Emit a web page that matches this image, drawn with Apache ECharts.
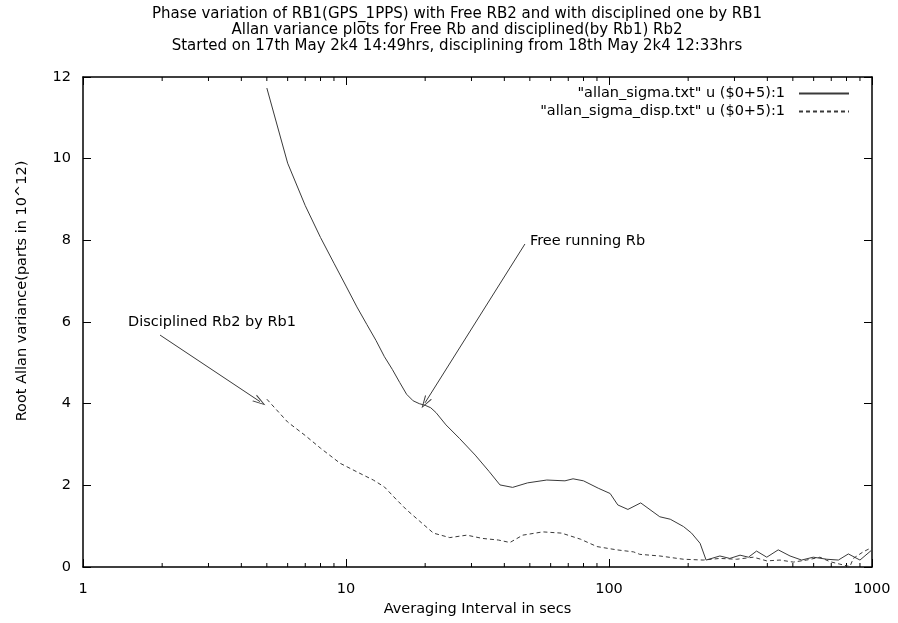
<!DOCTYPE html>
<html>
<head>
<meta charset="utf-8">
<script src="https://cdn.jsdelivr.net/npm/echarts@6/dist/echarts.min.js"></script>
<style>
  html, body { margin: 0; padding: 0; background: #ffffff; }
  #chart { width: 898px; height: 623px; }
</style>
</head>
<body>
<div id="chart"></div>
<script>
// Free running Rb: averaging interval (s) and root Allan variance (parts in 10^12)
const freeInterval = [5, 6, 7, 8, 9, 10, 11, 12, 13, 14, 15, 16, 17, 18, 19, 20, 21, 22, 24, 27, 31, 35, 38.5, 43, 49, 58, 68, 73, 80, 91, 101, 108, 118, 132, 156, 171, 192, 206, 222, 234, 264, 288, 315, 339, 364, 398, 440, 488, 540, 598, 673, 745, 813, 900, 1000];
const freeSigma = [11.73, 9.89, 8.85, 8.07, 7.44, 6.88, 6.37, 5.94, 5.55, 5.15, 4.84, 4.52, 4.23, 4.07, 4.0, 3.96, 3.9, 3.78, 3.48, 3.15, 2.74, 2.34, 2.01, 1.95, 2.06, 2.13, 2.11, 2.16, 2.11, 1.93, 1.80, 1.52, 1.41, 1.57, 1.23, 1.17, 0.99, 0.83, 0.58, 0.17, 0.27, 0.21, 0.29, 0.24, 0.39, 0.24, 0.42, 0.27, 0.17, 0.24, 0.19, 0.17, 0.32, 0.17, 0.42];

// Rb2 disciplined by Rb1
const discInterval = [5, 6, 7, 8, 9.5, 11, 12.7, 14, 15.5, 17, 19, 21.5, 24.8, 28.8, 33, 38, 42, 47, 56, 66, 78, 90, 107, 124, 131, 156, 192, 228, 264, 306, 354, 398, 447, 502, 564, 634, 692, 755, 824, 849, 925, 1000];
const discSigma = [4.11, 3.55, 3.22, 2.91, 2.54, 2.33, 2.13, 1.96, 1.66, 1.40, 1.13, 0.83, 0.72, 0.78, 0.70, 0.66, 0.60, 0.78, 0.86, 0.83, 0.68, 0.50, 0.42, 0.37, 0.31, 0.27, 0.19, 0.17, 0.21, 0.19, 0.24, 0.15, 0.17, 0.12, 0.17, 0.24, 0.13, 0.07, 0.01, 0.21, 0.37, 0.48];

const seriesNames = ['"allan_sigma.txt" u ($0+5):1', '"allan_sigma_disp.txt" u ($0+5):1'];
const titleLines = [
  'Phase variation of RB1(GPS_1PPS) with Free RB2 and with disciplined one by RB1',
  'Allan variance plots for Free Rb and disciplined(by Rb1) Rb2',
  'Started on 17th May 2k4 14:49hrs, disciplining from 18th May 2k4 12:33hrs'
];
const xName = 'Averaging Interval in secs';
const yName = 'Root Allan variance(parts in 10^12)';

// Log-axis minor tick positions (2..9 in each decade)
const minorTickValues = [2, 3, 4, 5, 6, 7, 8, 9, 20, 30, 40, 50, 60, 70, 80, 90, 200, 300, 400, 500, 600, 700, 800, 900];

// Annotation arrows: label text, text anchor, arrow start, arrow tip
const notes = [
  { text: 'Free running Rb', anchor: [47.9, 7.91], from: [47.9, 7.91], to: [19.97, 4.02] },
  { text: 'Disciplined Rb2 by Rb1', anchor: [1.483, 6.0], from: [1.963, 5.68], to: [4.71, 4.05] }
];

const FONT = '"DejaVu Sans", "Liberation Sans", Arial, sans-serif';
const FS = 14.5;
const INK = '#000000';
const CURVE = '#3a3a3a';
// open arrow head (chevron), tip at the top
const ARROW_HEAD = 'path://M5,0 L10,12 L8.6,12 L5,2.6 L1.4,12 L0,12 Z';

const zip = (xs, ys) => xs.map((x, i) => [x, ys[i]]);

const chart = echarts.init(document.getElementById('chart'), null, { renderer: 'canvas' });

const baseX = {
  type: 'log', logBase: 10, min: 1, max: 1000,
  axisLine: { show: true, onZero: false, lineStyle: { color: INK, width: 1.5 } },
  axisTick: { show: true, inside: true, length: 8, lineStyle: { color: INK, width: 1 } },
  splitLine: { show: false },
  minorTick: { show: false }
};
const baseY = {
  type: 'value', min: 0, max: 12, interval: 2,
  axisLine: { show: true, onZero: false, lineStyle: { color: INK, width: 1.5 } },
  axisTick: { show: true, inside: true, length: 8, lineStyle: { color: INK, width: 1 } },
  splitLine: { show: false }
};

const option = {
  backgroundColor: '#ffffff',
  animation: false,
  textStyle: { fontFamily: FONT },
  title: {
    text: titleLines.join('\n'),
    left: 457, top: 6, padding: 0, textAlign: 'center',
    textStyle: { fontFamily: FONT, fontSize: 15, fontWeight: 'normal', color: INK, lineHeight: 16 }
  },
  legend: {
    data: seriesNames,
    orient: 'vertical',
    right: 43, top: 81,
    align: 'right',
    itemWidth: 50, itemHeight: 14, itemGap: 3,
    itemStyle: { opacity: 0 },
    textStyle: { fontFamily: FONT, fontSize: FS, color: INK, padding: [0, 9, 0, 0], lineHeight: 14 }
  },
  grid: { left: 83, right: 26, top: 77, bottom: 56, containLabel: false },
  xAxis: [
    Object.assign({}, baseX, {
      position: 'bottom',
      name: xName, nameLocation: 'middle', nameGap: 32,
      nameTextStyle: { fontFamily: FONT, fontSize: FS, color: INK },
      axisLabel: {
        show: true, margin: 15, fontFamily: FONT, fontSize: FS, color: INK,
        formatter: v => String(Math.round(v))
      }
    }),
    Object.assign({}, baseX, { position: 'top', axisLabel: { show: false } })
  ],
  yAxis: [
    Object.assign({}, baseY, {
      position: 'left',
      axisLabel: { show: true, margin: 12, fontFamily: FONT, fontSize: FS, color: INK }
    }),
    Object.assign({}, baseY, { position: 'right', axisLabel: { show: false } })
  ],
  graphic: [{
    type: 'text',
    x: 22, y: 291, rotation: Math.PI / 2,
    style: {
      text: yName, fontFamily: FONT, fontSize: FS, fill: INK,
      align: 'center', verticalAlign: 'middle'
    }
  }],
  series: [
    {
      name: seriesNames[0],
      type: 'line',
      xAxisIndex: 0, yAxisIndex: 0,
      data: zip(freeInterval, freeSigma),
      showSymbol: false, symbol: 'none',
      lineStyle: { color: CURVE, width: 1, type: 'solid' },
      itemStyle: { color: CURVE },
      z: 3,
      markLine: {
        silent: true,
        symbol: ['none', ARROW_HEAD],
        symbolSize: 12,
        lineStyle: { color: CURVE, width: 1, type: 'solid' },
        label: { show: false },
        data: notes.map(n => [
          { coord: n.from },
          { coord: n.to, symbolSize: [8, 13] }
        ])
      },
      markPoint: {
        silent: true,
        symbol: 'circle', symbolSize: 0,
        itemStyle: { color: 'transparent' },
        label: {
          show: true, position: 'right', distance: 5,
          fontFamily: FONT, fontSize: FS, color: INK,
          formatter: p => p.name
        },
        data: notes.map((n, i) => ({
          name: n.text, coord: n.anchor,
          label: i === 0 ? { offset: [0, -3] } : { distance: 0 }
        }))
      }
    },
    {
      name: seriesNames[1],
      type: 'line',
      xAxisIndex: 0, yAxisIndex: 0,
      data: zip(discInterval, discSigma),
      showSymbol: false, symbol: 'none',
      lineStyle: { color: CURVE, width: 1, type: [4, 3] },
      itemStyle: { color: CURVE },
      z: 3
    },
    {
      // minor ticks for the logarithmic x axes (bottom and top)
      type: 'custom',
      xAxisIndex: 0, yAxisIndex: 0,
      silent: true,
      clip: false,
      data: minorTickValues.map(v => [v, 0]),
      renderItem: (params, api) => {
        const v = api.value(0);
        const b = api.coord([v, 0]);
        const t = api.coord([v, 12]);
        const style = { stroke: INK, lineWidth: 1 };
        return {
          type: 'group',
          children: [
            { type: 'line', shape: { x1: b[0], y1: b[1], x2: b[0], y2: b[1] - 4 }, style },
            { type: 'line', shape: { x1: t[0], y1: t[1], x2: t[0], y2: t[1] + 4 }, style }
          ]
        };
      },
      z: 2
    }
  ]
};

chart.setOption(option);
</script>
</body>
</html>
